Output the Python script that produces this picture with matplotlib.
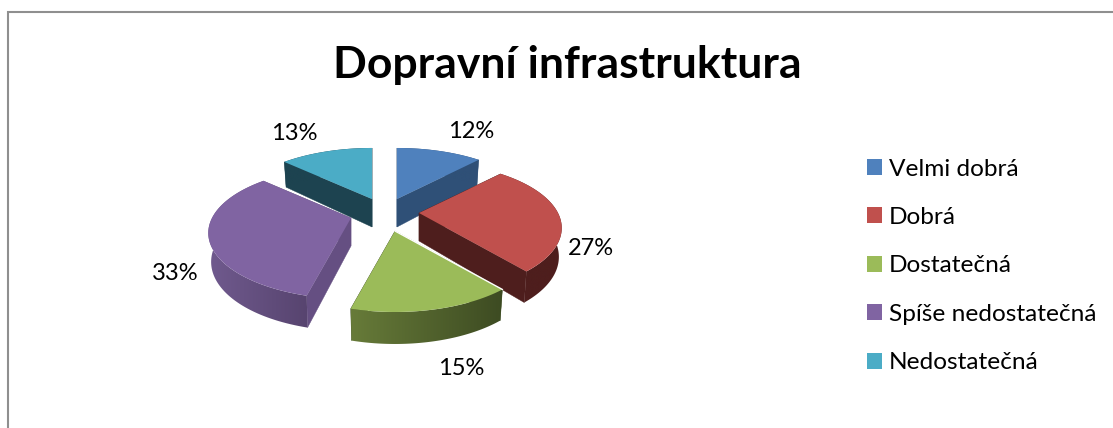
import numpy as np
import matplotlib
matplotlib.use('Agg')
from matplotlib import pyplot as plt
from matplotlib.colors import to_rgb
from matplotlib.patches import Patch, Polygon

# --- data ---
title = 'Dopravní infrastruktura'
categories = ['Velmi dobrá', 'Dobrá', 'Dostatečná', 'Spíše nedostatečná', 'Nedostatečná']
values = [12, 27, 15, 33, 13]

# --- colours per slice ---
top_colors = ['#4F81BD', '#C0504D', '#9BBB59', '#8064A2', '#4BACC6']
cut_colors = ['#2F5077', '#4E1E1D', '#3F4E24', '#654F82', '#1D4350']
wall_left = ['#2F5077', '#4E1E1D', '#677B39', '#705A8E', '#1D4350']
wall_right = ['#2F5077', '#4E1E1D', '#3D4B22', '#57446F', '#1D4350']

# --- layout, everything in pixels of the picture ---
apex_x = [397, 419, 395, 351, 372]
apex_y = [199, 213, 231, 218, 199]
label_x = [471, 591, 461, 175, 294]
label_y = [131.5, 248.5, 368.5, 273.5, 133.5]
radius_x = 139
radius_y = 62.6
persp = 0.227
# back slices first so that the front ones cover them
draw_order = [4, 0, 3, 1, 2]


def project(i, th, low=False):
    """Screen position of the rim of slice i at angle th (clockwise from the top)."""
    X = np.sin(th)
    Y = np.cos(th)
    s = 1 / (1 + persp * Y)
    if low:
        return apex_x[i] + radius_x * X * s * 0.98, apex_y[i] - radius_y * Y * s + 28 - 4 * Y
    return apex_x[i] + radius_x * X * s, apex_y[i] - radius_y * Y * s


fig = plt.figure(figsize=(11.13, 4.28), dpi=100)
ax = fig.add_axes([0, 0, 1, 1])
ax.axis('off')

# grey frame of the chart, only top and left are inside the picture
ax.plot([8, 8, 1113], [428, 12, 12], color='#8F8F8F', lw=1.5, solid_joinstyle='miter')

# --- the slices ---
angles = np.cumsum([0] + values) / sum(values) * 2 * np.pi
z = 2
for i in draw_order:
    th = np.linspace(angles[i], angles[i + 1], 80)
    x, y = project(i, th)
    xl, yl = project(i, th, low=True)

    # cut faces going down from the two straight edges
    for k in [0, -1]:
        ax.fill([apex_x[i], x[k], xl[k], apex_x[i]],
                [apex_y[i], y[k], yl[k], apex_y[i] + 28],
                color=cut_colors[i], lw=0.3, zorder=z)

    # outer wall with a left to right shading, a gradient image clipped to the wall
    wall_x = np.r_[x, xl[::-1]]
    wall_y = np.r_[y, yl[::-1]]
    c0 = np.array(to_rgb(wall_left[i]))
    c1 = np.array(to_rgb(wall_right[i]))
    f = np.linspace(0, 1, 256)[None, :, None]
    grad = c1 * f + c0 * (1 - f)
    im = ax.imshow(grad, extent=[wall_x.min(), wall_x.max(), wall_y.max(), wall_y.min()],
                   aspect='auto', zorder=z + 0.1)
    im.set_clip_path(Polygon(np.c_[wall_x, wall_y], transform=ax.transData))

    # top face
    ax.fill(np.r_[apex_x[i], x], np.r_[apex_y[i], y], color=top_colors[i], lw=0, zorder=z + 0.2)

    # percent label
    ax.text(label_x[i], label_y[i], '%d%%' % values[i], family='Lato', fontsize=17,
            color='black', ha='center', va='center', zorder=20)
    z += 1

# thin light seam along the right edge of the green slice
x, y = project(2, angles[2])
ax.plot([apex_x[2], x], [apex_y[2], y], color='white', lw=1, zorder=z)

ax.text(567, 64.5, title, family='Lato', weight='bold', fontsize=32, ha='center', va='center')

ax.set_xlim(0, 1113)
ax.set_ylim(428, 0)

handles = [Patch(facecolor=c, edgecolor='none') for c in top_colors]
ax.legend(handles, categories, loc='upper left', bbox_to_anchor=(867, 158.5),
          bbox_transform=ax.transData, frameon=False, prop={'family': 'Lato', 'size': 17.6},
          borderpad=0, borderaxespad=0, handlelength=0.614, handleheight=0.614,
          handletextpad=0.28, labelspacing=1.123)

fig.savefig('out.png', dpi=100)
